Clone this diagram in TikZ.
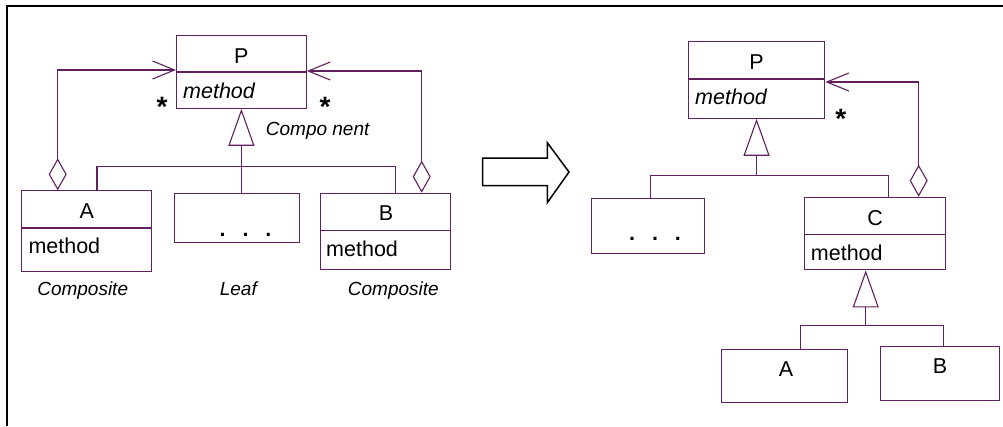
\documentclass[tikz,border=0pt]{standalone}
\usepackage{fontspec}
\setmainfont{Liberation Sans}
\usetikzlibrary{arrows.meta}
\definecolor{umlline}{RGB}{96,32,96}
\tikzset{
    classbox/.style={draw=umlline, line width=1.1pt, anchor=north west, inner sep=0pt}, % box of a class
    uml/.style={draw=umlline, line width=1.1pt}, % connector lines
    txt/.style={font=\fontsize{21.5}{24}\selectfont, inner sep=0pt, anchor=base}, % text in the boxes
    dots/.style={font=\fontsize{21.5}{24}\selectfont\bfseries, inner sep=0pt, anchor=base}, % the three dots
    role/.style={font=\fontsize{19}{22}\selectfont\itshape, inner sep=0pt, anchor=base}, % role names
    star/.style={font=\fontsize{28}{30}\selectfont\bfseries, inner sep=0pt, anchor=base}, % multiplicity
    agg/.style={uml, {Diamond[open, length=32pt, width=18pt]}-{Straight Barb[length=22pt, width=18pt]}},
    inh/.style={uml, -{Triangle[open, length=37pt, width=26pt]}}
}
\newcommand{\threedots}{.\hspace{17pt}.\hspace{17pt}.}
\begin{document}
\begin{tikzpicture}[x=1pt, y=-1pt]
    \useasboundingbox (0,0) rectangle (1003,426);
    \draw[black, line width=2pt] (7,426) -- (7,6) -- (1003,6);

    % class boxes: name/x/y/width/height
    \foreach \n/\x/\y/\w/\h in {P1/176/35/129.7/72.7, A1/21.3/190.3/129.7/80.7, leaf1/173.7/192.7/125.6/49.6,
        B1/320/192.7/129.7/76.3, P2/687.7/41.3/136.6/76.4, leaf2/591.3/197.7/112.4/55,
        C2/804.3/196.7/140.7/72.6, A2/721.3/348.7/126/53, B2/880/346.3/119/54}
        {\node[classbox, minimum width=\w pt, minimum height=\h pt] (\n) at (\x,\y) {};}
    \foreach \n/\y in {P1/72, A1/228, B1/230.3, P2/79, C2/234.3}
        {\draw[uml] (\n.west |- 0,\y) -- (\n.east |- 0,\y);}

    % left picture
    \node[txt] (P1name) at (P1.north |- 0,63) {P};
    \node[txt, anchor=base west] (P1meth) at (183,98) {\itshape method};
    \node[txt] (A1name) at (A1.north |- 0,218.3) {A};
    \node[txt, anchor=base west] (A1meth) at (28.3,253) {method};
    \node[txt] (B1name) at (386,220) {B};
    \node[txt, anchor=base west] (B1meth) at (326,256) {method};
    \node[dots] (leaf1dots) at (245.5,236.5) {\threedots};
    \node[star] (star1) at (162,116) {*};
    \node[star] (star2) at (325,116) {*};
    \node[role, anchor=base west] (comp) at (265.7,135) {Compo nent};
    \node[role] (A1role) at (82.7,295) {Composite};
    \node[role] (leafrole) at (238.3,295) {Leaf};
    \node[role] (B1role) at (393.3,295) {Composite};

    \draw[agg] (A1.north -| 57.7,0) |- (P1.west |- 0,70);
    \draw[agg] (B1.north -| 421.7,0) |- (P1.east |- 0,71);
    \draw[inh] (leaf1.north -| P1.south) -- (P1.south);
    \draw[uml] (A1.north -| 97,0) -- (97,166.3) -| (B1.north -| 395.7,0);

    % the big arrow
    \draw[black, line width=1.5pt, line join=miter] (482.7,158) -- (547.3,158) -- (547.3,142.7) -- (569,172)
        -- (547.3,202.7) -- (547.3,185.5) -- (482.7,185.5) -- cycle;

    % right picture
    \node[txt] (P2name) at (P2.north |- 0,69) {P};
    \node[txt, anchor=base west] (P2meth) at (695,104) {\itshape method};
    \node[txt] (C2name) at (875,225) {C};
    \node[txt, anchor=base west] (C2meth) at (810.7,260) {method};
    \node[dots] (leaf2dots) at (655,240.5) {\threedots};
    \node[txt] (A2name) at (786,376) {A};
    \node[txt] (B2name) at (940,373.3) {B};
    \node[star] (star3) at (840.7,128) {*};

    \draw[agg] (C2.north -| 918.7,0) |- (P2.east |- 0,82);
    \draw[inh] (P2.south |- 0,175.7) -- (P2.south);
    \draw[uml] (leaf2.north -| 650.3,0) -- (650.3,175.7) -| (C2.north -| 888.7,0);
    \draw[inh] (865.7,325.7) -- (C2.south -| 865.7,0);
    \draw[uml] (A2.north -| 800.3,0) -- (800.3,325.7) -| (B2.north -| 943.7,0);
\end{tikzpicture}
\end{document}
